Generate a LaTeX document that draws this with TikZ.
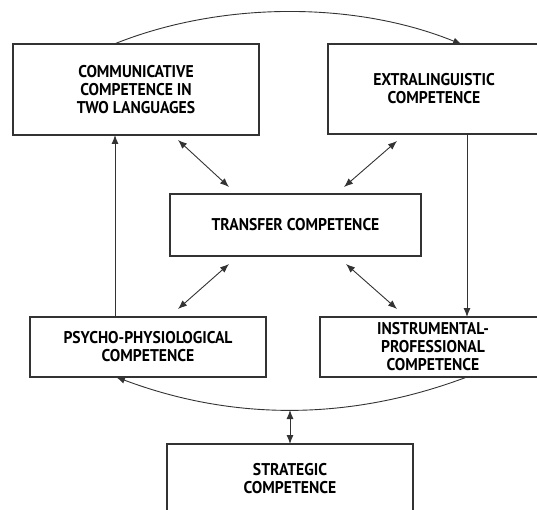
\documentclass[tikz,border=0pt]{standalone}
\usepackage{fontspec}
\setmainfont[FakeStretch=0.92]{PT Sans}
\usetikzlibrary{arrows.meta}
\begin{document}
\begin{tikzpicture}[x=1pt,y=-1pt,
  comp/.style={draw=black!80,line width=1.2pt,inner sep=0pt,align=center,
    font=\fontsize{17}{18}\selectfont\bfseries},
  link/.style={black!80,line width=0.9pt}]
\clip (0,0) rectangle (537,510);
\tikzset{>={Latex[length=9pt,width=7pt]}}
\node[comp,minimum width=246pt,minimum height=91pt] (comm) at (136,89.5) {COMMUNICATIVE\\COMPETENCE IN\\TWO LANGUAGES};
\node[comp,minimum width=212pt,minimum height=90pt] (extra) at (434,89) {EXTRALINGUISTIC\\COMPETENCE};
\node[comp,minimum width=251pt,minimum height=62pt] (transfer) at (295.5,225) {TRANSFER COMPETENCE};
\node[comp,minimum width=236pt,minimum height=60pt] (psycho) at (148,347) {PSYCHO-PHYSIOLOGICAL\\COMPETENCE};
\node[comp,minimum width=226pt,minimum height=60pt] (instr) at (433,347) {INSTRUMENTAL-\\PROFESSIONAL\\COMPETENCE};
\node[comp,minimum width=246pt,minimum height=70pt] (strat) at (290,479) {STRATEGIC\\COMPETENCE};
\coordinate (commtop) at (113,44.5);
\coordinate (extratop) at (462,44.5);
\coordinate (commbot) at (115,135);
\coordinate (psychotop) at (115,317);
\coordinate (extrabot) at (467,134);
\coordinate (instrtop) at (467,317);
\coordinate (instrbot) at (467,377);
\coordinate (psychobot) at (116,377);
\coordinate (low) at (290,410);
\coordinate (strattop) at (290,444);
\coordinate (c1) at (178,140);
\coordinate (t1) at (229,187);
\coordinate (e1) at (397,141);
\coordinate (t2) at (344,187);
\coordinate (t3) at (229,264);
\coordinate (p1) at (178,309);
\coordinate (t4) at (346,264);
\coordinate (i1) at (397,309);
\draw[link,->] (commtop) .. controls (220,1) and (355,1) .. (extratop);
\draw[link,->] (instrbot) .. controls (350,421) and (233,421) .. (psychobot);
\draw[link,->] (psychotop) -- (commbot);
\draw[link,->] (extrabot) -- (instrtop);
\draw[link,<->] (c1) -- (t1);
\draw[link,<->] (e1) -- (t2);
\draw[link,<->] (t3) -- (p1);
\draw[link,<->] (t4) -- (i1);
\draw[link,<->] (low) -- (strattop);
\end{tikzpicture}
\end{document}
